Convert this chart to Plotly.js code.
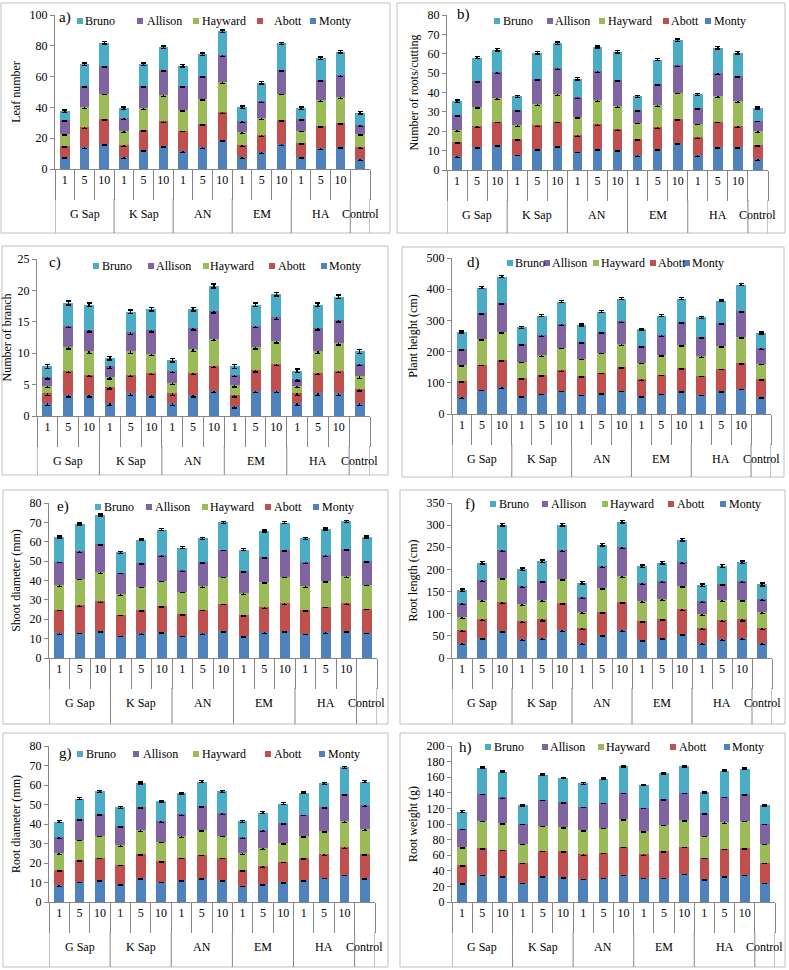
<!DOCTYPE html>
<html><head><meta charset="utf-8">
<script src="https://cdn.plot.ly/plotly-3.0.1.min.js"></script>
<style>html,body{margin:0;padding:0;background:#fff}#chart{width:789px;height:970px}</style>
</head><body><div id="chart"></div>
<script>
// ---------- categories ----------
const groups = ['G Sap','K Sap','AN','EM','HA','Control'];
const categories = ['G Sap 1','G Sap 5','G Sap 10','K Sap 1','K Sap 5','K Sap 10','AN 1','AN 5','AN 10','EM 1','EM 5','EM 10','HA 1','HA 5','HA 10','Control'];
const doseLabels = ['1','5','10','1','5','10','1','5','10','1','5','10','1','5','10',''];
const groupCenters = ['G Sap 5','K Sap 5','AN 5','EM 5','HA 5','Control'];
const seriesNames = ['Monty','Abott','Hayward','Allison','Bruno'];
const seriesColors = ['#4F81BD','#C0504D','#9BBB59','#8064A2','#4BACC6'];

// ---------- a) Leaf number ----------
const a_monty   = [8,14,16.5,7.5,12.5,15,11.5,14,19,7.5,11,16,8,13.5,14.5,6.5];
const a_abott   = [7,13,16,8,13,16,13.5,15.5,18,8,11,16,9,14.5,15.5,7.5];
const a_hayward = [8,13,16.5,9,14,17,13.5,16,19.5,8.5,11,17,8,16.5,16.5,9];
const a_allison = [9,14,18,8.5,14.5,16.5,15.5,15,17.5,7,11,15.5,7.5,13.5,14.5,5.5];
const a_bruno   = [5.5,14,15,6.5,14,14.5,13,14,15.5,9,12,17,7,14,15,8];
// ---------- b) Number of roots/cutting ----------
const b_monty   = [7,12,13,8,11,12.5,9.5,11,10.5,7.5,11,14,7.5,12,12,5.5];
const b_abott   = [7.5,10.5,12,8,12,12.5,8.5,12.5,10.5,8.5,11,12.5,9.5,13,10.5,7.5];
const b_hayward = [6,10,12,7,11,14,9.5,12.5,12,8.5,11.5,13.5,7,13,13,7];
const b_allison = [8,13.5,13.5,8,13,13.5,10,15,13.5,6.5,11,14,8,12,13,5.5];
const b_bruno   = [7,12,11.5,7,13.5,13,9.5,12.5,14.5,7,12.5,13,7,13,12,6.5];
// ---------- c) Number of branch ----------
const c_monty   = [2,3.3,3.3,2,3.6,3.3,2,3.3,4,1.6,4,4,2,3.6,3.6,2];
const c_abott   = [1.6,3.9,3.3,2.6,3,3.6,1.6,3.6,4,1.7,3.3,4.3,1.6,3.3,3.6,2.3];
const c_hayward = [1.2,3.8,3.7,1.6,3.7,3,1.7,3.7,4.3,1.6,3.7,3.6,1.2,3.4,4.4,2];
const c_allison = [1.4,3.4,3.4,1.7,3,3.8,1.9,3.4,4.4,1.7,3.4,3.8,1.1,3.7,3.7,2];
const c_bruno   = [1.7,3.6,4,1.3,3.3,3.3,1.7,3,4,1.3,3.3,3.7,1.3,3.7,3.7,2];
// ---------- d) Plant height ----------
const d_monty   = [53,78,85,57,65,75,62,67,75,58,65,73,62,73,81,54];
const d_abott   = [52,80,88,58,60,65,60,65,75,53,61,74,61,72,82,58];
const d_hayward = [52,82,90,53,63,73,55,65,73,54,63,74,62,73,84,49];
const d_allison = [51,83,92,56,64,74,53,65,74,53,63,74,62,73,83,49];
const d_bruno   = [55,82,85,54,63,73,55,66,73,54,63,75,63,72,85,50];
// ---------- e) Shoot diameter ----------
const e_monty   = [12.7,13,14,11.5,12.7,13.5,11.5,12.7,14,11.3,13.2,14,12.5,13.3,14,13];
const e_abott   = [12.3,14.2,15.2,10.8,12.1,13.3,11.2,12.3,14,10.9,13,14.2,12.2,13.2,14.2,12.5];
const e_hayward = [12.5,13.8,15,10.5,12,13.2,11.5,12,14,11.1,13.1,13.8,12.3,13.3,14,12.3];
const e_allison = [12.2,14,14.6,11.2,12.2,13,11.1,12.5,14,11.5,12.9,13.7,12.3,13.2,14,12.2];
const e_bruno   = [12.8,14.2,15,10.5,12,13.2,11.7,12.2,14,11.2,13.3,14.1,12.4,13.5,14.3,12.5];
// ---------- f) Root length ----------
const f_monty   = [33,46,62,43,45,63,34,53,63,41,46,55,33,43,45,34];
const f_abott   = [30,42,64,40,42,62,34,52,64,43,43,55,34,43,42,33];
const f_hayward = [29,43,55,38,43,54,35,54,58,44,44,53,32,44,45,36];
const f_allison = [32,45,63,41,45,64,34,48,65,41,41,53,30,38,42,30];
const f_bruno   = [29,39,57,38,43,58,33,49,58,38,41,51,35,40,42,33];
// ---------- g) Root diameter ----------
const g_monty   = [8.5,10.5,11.2,9.2,12.2,10.5,11.2,12.2,11.3,8.3,9.2,10.3,11.2,12.5,14,12.3];
const g_abott   = [8,11,11.6,10,12.5,10.5,11.5,12.1,11.4,8.2,9.1,10.4,11.3,12,14,12.4];
const g_hayward = [8.5,10.5,11.2,9.8,12,10,11,12.7,11.3,8.5,9.2,9.6,11.3,12,13.3,12.5];
const g_allison = [8.2,10.5,11.2,10,12.1,10.3,11.3,12.3,11.5,8.2,9.2,10.2,11,12.2,14,12.3];
const g_bruno   = [8,10.5,11.5,9.5,12.2,10.4,10.8,12.4,11.2,8.1,9.1,10,11.2,12.1,13.7,12.2];
// ---------- h) Root weight ----------
const h_monty   = [24,35,33,25,33,32,30,31,35,31,31,36,29,33,35,25];
const h_abott   = [23,34,34,25,33,33,31,32,36,30,34,35,28,35,34,25];
const h_hayward = [23,35,34,25,32,31,31,32,35,30,34,34,28,34,35,25];
const h_allison = [24,35,33,25,33,32,30,32,34,30,33,35,29,33,34,25];
const h_bruno   = [22,33,33,24,32,31,30,31,34,29,33,34,27,33,33,24];

// ---------- layout helpers ----------
const W = 789, H = 970;
const FONT = 'Liberation Serif';
const px = x => x / W, py = y => 1 - y / H;

const panels = [
  {label:'a)', title:'Leaf number', ymax:100, dtick:20, err:0.8,
   data:[a_monty,a_abott,a_hayward,a_allison,a_bruno],
   x:[55,370], y:[15,169], box:[1,3,390,233], lab:[57,17],
   leg:{y:21, m:[77,137,193,257,310], t:[83,145,200,272,317]}},
  {label:'b)', title:'Number of roots/cutting', ymax:80, dtick:10, err:0.6,
   data:[b_monty,b_abott,b_hayward,b_allison,b_bruno],
   x:[447,768], y:[15,170], box:[397,3,785,233], lab:[455,15],
   leg:{y:21, m:[494,547,599,663,705], t:[501,553,606,669,712]}},
  {label:'c)', title:'Number of branch', ymax:25, dtick:5, err:0.3,
   data:[c_monty,c_abott,c_hayward,c_allison,c_bruno],
   x:[37,370], y:[259,416], box:[2,246,388,475], lab:[47,263],
   leg:{y:266, m:[93,148,203,269,321], t:[100,154,208,276,327]}},
  {label:'d)', title:'Plant height (cm)', ymax:500, dtick:100, err:3,
   data:[d_monty,d_abott,d_hayward,d_allison,d_bruno],
   x:[452,771], y:[258,414], box:[402,247,784,477], lab:[465,263],
   leg:{y:263, m:[507,544,593,650,684], t:[513,550,599,656,690]}},
  {label:'e)', title:'Shoot diameter (mm)', ymax:80, dtick:10, err:0.5,
   data:[e_monty,e_abott,e_hayward,e_allison,e_bruno],
   x:[49,377], y:[503,658], box:[3,490,388,724], lab:[55,506],
   leg:{y:507, m:[95,146,202,265,313], t:[102,153,208,272,320]}},
  {label:'f)', title:'Root length (cm)', ymax:350, dtick:50, err:3,
   data:[f_monty,f_abott,f_hayward,f_allison,f_bruno],
   x:[452,772], y:[503,658], box:[400,490,785,724], lab:[463,504],
   leg:{y:504, m:[490,542,602,668,720], t:[497,549,608,675,727]}},
  {label:'g)', title:'Root diameter (mm)', ymax:80, dtick:10, err:0.5,
   data:[g_monty,g_abott,g_hayward,g_allison,g_bruno],
   x:[49,375], y:[746,902], box:[3,733,388,967], lab:[57,753],
   leg:{y:754, m:[77,133,193,265,319], t:[84,141,200,272,326]}},
  {label:'h)', title:'Root weight (g)', ymax:200, dtick:20, err:1,
   data:[h_monty,h_abott,h_hayward,h_allison,h_bruno],
   x:[452,775], y:[746,902], box:[400,733,785,967], lab:[457,747],
   leg:{y:747, m:[485,542,598,670,724], t:[492,548,604,677,730]}}
];

const traces = [];
const layout = {
  width: W, height: H,
  margin: {l:0, r:0, t:0, b:0},
  paper_bgcolor: '#fff', plot_bgcolor: '#fff',
  barmode: 'stack', bargap: 0.52,
  showlegend: false,
  font: {family: FONT, size: 11, color: '#000'},
  shapes: [], annotations: []
};
const AX = '#868686';

panels.forEach((p, i) => {
  const n = i === 0 ? '' : String(i + 1);
  const xa = 'x' + n, ya = 'y' + n;
  p.data.forEach((vals, j) => {
    traces.push({
      type: 'bar', x: categories, y: vals, name: seriesNames[j],
      xaxis: xa, yaxis: ya, showlegend: false,
      marker: {color: seriesColors[j], line: {width: 0}},
      error_y: {type: 'constant', value: p.err, color: '#000', thickness: 1.4, width: 2.5},
      hovertemplate: '%{x}: %{y}<extra>' + seriesNames[j] + '</extra>'
    });
  });
  layout['xaxis' + n] = {
    type: 'category', domain: [px(p.x[0]), px(p.x[1])], anchor: ya,
    categoryorder: 'array', categoryarray: categories, range: [-0.5, 15.5],
    tickmode: 'array', tickvals: categories, ticktext: doseLabels,
    tickson: 'boundaries', ticks: 'outside', ticklen: 30, tickcolor: AX, tickwidth: 1,
    tickangle: 0, ticklabelstandoff: 0,
    showline: true, linecolor: AX, linewidth: 1,
    showgrid: false, zeroline: false, automargin: false, fixedrange: true,
    tickfont: {family: FONT, size: 12, color: '#000'}
  };
  layout['yaxis' + n] = {
    domain: [py(p.y[1]), py(p.y[0])], anchor: xa,
    range: [0, p.ymax], tick0: 0, dtick: p.dtick,
    ticks: 'outside', ticklen: 4, tickcolor: AX,
    showline: true, linecolor: AX, linewidth: 1,
    showgrid: false, zeroline: false, automargin: false, fixedrange: true,
    tickfont: {family: FONT, size: 12, color: '#000'},
    title: {text: p.title, font: {family: FONT, size: 12, color: '#000'}, standoff: 6}
  };
  // panel border
  layout.shapes.push({type: 'rect', xref: 'paper', yref: 'paper',
    x0: px(p.box[0]), x1: px(p.box[2]), y0: py(p.box[3]), y1: py(p.box[1]),
    line: {color: '#BFBFBF', width: 1}, fillcolor: 'rgba(0,0,0,0)', layer: 'below'});
  // group dividers
  [-0.5, 2.5, 5.5, 8.5, 11.5, 14.5, 15.5].forEach(b => {
    layout.shapes.push({type: 'line', xref: xa, yref: 'paper',
      x0: b, x1: b, y0: py(p.y[1] + 30), y1: py(p.box[3]),
      line: {color: AX, width: 1}});
  });
  // group labels
  groups.forEach((g, k) => {
    layout.annotations.push({xref: xa, yref: 'paper', x: groupCenters[k], y: py(p.y[1] + 45),
      text: g, showarrow: false, xanchor: 'center', yanchor: 'middle',
      font: {family: FONT, size: 12, color: '#000'}});
  });
  // panel label
  layout.annotations.push({xref: 'paper', yref: 'paper', x: px(p.lab[0]), y: py(p.lab[1]),
    text: p.label, showarrow: false, xanchor: 'left', yanchor: 'middle',
    font: {family: FONT, size: 15, color: '#000'}});
  // legend (Bruno, Allison, Hayward, Abott, Monty)
  [4, 3, 2, 1, 0].forEach((s, k) => {
    const mx = p.leg.m[k], my = p.leg.y;
    layout.shapes.push({type: 'rect', xref: 'paper', yref: 'paper',
      x0: px(mx), x1: px(mx + 6), y0: py(my + 3), y1: py(my - 3),
      line: {width: 0}, fillcolor: seriesColors[s]});
    layout.annotations.push({xref: 'paper', yref: 'paper', x: px(p.leg.t[k]), y: py(my),
      text: seriesNames[s], showarrow: false, xanchor: 'left', yanchor: 'middle',
      font: {family: FONT, size: 12, color: '#000'}});
  });
});

Plotly.newPlot('chart', traces, layout, {displayModeBar: false, staticPlot: true});
</script>
</body></html>
